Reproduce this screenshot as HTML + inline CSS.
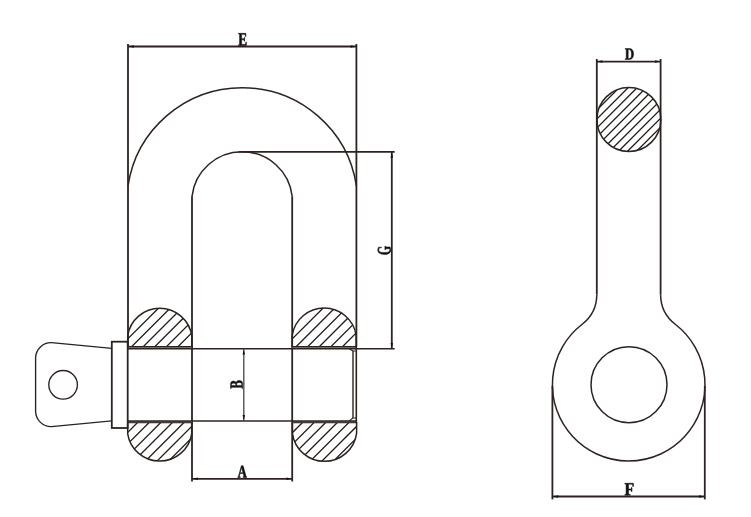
<!DOCTYPE html>
<html><head><meta charset="utf-8"><style>
html,body{margin:0;padding:0;background:#fff;}
svg{display:block;}
</style></head><body>
<svg width="751" height="517" viewBox="0 0 751 517">
<rect width="751" height="517" fill="#fff"/>
<line x1="128" y1="46.5" x2="356.4" y2="46.5" stroke="#2c2320" stroke-width="1.8"/><polygon points="128.6,46.5 133.8,45.25 133.8,47.75" fill="#151210"/><polygon points="355.8,46.5 350.6,47.75 350.6,45.25" fill="#151210"/><line x1="128" y1="44" x2="128" y2="347" stroke="#2c2320" stroke-width="1.8"/><line x1="356.4" y1="44" x2="356.4" y2="346.5" stroke="#2c2320" stroke-width="1.8"/><path d="M128,185.92 A115.5,115.5 0 0 1 356.4,185.92" fill="none" stroke="#2c2320" stroke-width="1.5"/><path d="M192,196.35 A50.44,50.44 0 0 1 292.2,196.35" fill="none" stroke="#2c2320" stroke-width="1.5"/><line x1="192" y1="196.35" x2="192" y2="481.5" stroke="#2c2320" stroke-width="1.8"/><line x1="292.2" y1="196.35" x2="292.2" y2="481.5" stroke="#2c2320" stroke-width="1.8"/><line x1="238.6" y1="151.9" x2="394.7" y2="151.9" stroke="#2c2320" stroke-width="1.8"/><line x1="391.8" y1="152" x2="391.8" y2="348.7" stroke="#2c2320" stroke-width="1.8"/><polygon points="391.8,152.6 393.05,157.8 390.55,157.8" fill="#151210"/><polygon points="391.8,348.1 390.55,342.9 393.05,342.9" fill="#151210"/><defs><clipPath id="h1"><path d="M127.7,346.8 L127.7,335.85 A32.4,32.4 0 0 1 191.8,335.85 L191.8,346.8 Z"/></clipPath><clipPath id="h2"><path d="M292.2,346.8 L292.2,335.32 A32.4,32.4 0 0 1 356.2,335.32 L356.2,346.8 Z"/></clipPath><clipPath id="h3"><path d="M127.7,422.6 L127.7,433.78 A32.4,32.4 0 0 0 191.7,433.78 L191.7,422.6 Z"/></clipPath><clipPath id="h4"><path d="M292.4,422.6 L292.4,433.3 A32.4,32.4 0 0 0 356.6,433.3 L356.6,422.6 Z"/></clipPath><clipPath id="h5"><circle cx="628.9" cy="119.5" r="32"/></clipPath></defs><g clip-path="url(#h1)" stroke="#1e1a18" stroke-width="1.3"><line x1="-133.3" y1="600" x2="466.7" y2="0"/><line x1="-121.7" y1="600" x2="478.3" y2="0"/><line x1="-110.1" y1="600" x2="489.9" y2="0"/><line x1="-98.5" y1="600" x2="501.5" y2="0"/><line x1="-86.9" y1="600" x2="513.1" y2="0"/><line x1="-75.3" y1="600" x2="524.7" y2="0"/></g><g clip-path="url(#h2)" stroke="#1e1a18" stroke-width="1.3"><line x1="31.2" y1="600" x2="631.2" y2="0"/><line x1="42.8" y1="600" x2="642.8" y2="0"/><line x1="54.4" y1="600" x2="654.4" y2="0"/><line x1="66" y1="600" x2="666" y2="0"/><line x1="77.6" y1="600" x2="677.6" y2="0"/><line x1="89.2" y1="600" x2="689.2" y2="0"/></g><g clip-path="url(#h3)" stroke="#1e1a18" stroke-width="1.3"><line x1="-39.9" y1="600" x2="560.1" y2="0"/><line x1="-28.3" y1="600" x2="571.7" y2="0"/><line x1="-16.7" y1="600" x2="583.3" y2="0"/><line x1="-5.1" y1="600" x2="594.9" y2="0"/><line x1="6.5" y1="600" x2="606.5" y2="0"/><line x1="18.1" y1="600" x2="618.1" y2="0"/><line x1="29.7" y1="600" x2="629.7" y2="0"/></g><g clip-path="url(#h4)" stroke="#1e1a18" stroke-width="1.3"><line x1="125" y1="600" x2="725" y2="0"/><line x1="136.6" y1="600" x2="736.6" y2="0"/><line x1="148.2" y1="600" x2="748.2" y2="0"/><line x1="159.8" y1="600" x2="759.8" y2="0"/><line x1="171.4" y1="600" x2="771.4" y2="0"/><line x1="183" y1="600" x2="783" y2="0"/><line x1="194.6" y1="600" x2="794.6" y2="0"/></g><g clip-path="url(#h5)" stroke="#1e1a18" stroke-width="1.3"><line x1="52.8" y1="600" x2="652.8" y2="0"/><line x1="61.8" y1="600" x2="661.8" y2="0"/><line x1="70.8" y1="600" x2="670.8" y2="0"/><line x1="79.8" y1="600" x2="679.8" y2="0"/><line x1="88.8" y1="600" x2="688.8" y2="0"/><line x1="97.8" y1="600" x2="697.8" y2="0"/><line x1="106.8" y1="600" x2="706.8" y2="0"/><line x1="115.8" y1="600" x2="715.8" y2="0"/><line x1="124.8" y1="600" x2="724.8" y2="0"/><line x1="133.8" y1="600" x2="733.8" y2="0"/><line x1="142.8" y1="600" x2="742.8" y2="0"/><line x1="151.8" y1="600" x2="751.8" y2="0"/><line x1="160.8" y1="600" x2="760.8" y2="0"/><line x1="169.8" y1="600" x2="769.8" y2="0"/><line x1="178.8" y1="600" x2="778.8" y2="0"/><line x1="187.8" y1="600" x2="787.8" y2="0"/><line x1="196.8" y1="600" x2="796.8" y2="0"/></g><path d="M127.7,346.8 L127.7,335.85 A32.4,32.4 0 0 1 191.8,335.85 L191.8,346.8 Z" fill="none" stroke="#2c2320" stroke-width="1.5"/><path d="M292.2,346.8 L292.2,335.32 A32.4,32.4 0 0 1 356.2,335.32 L356.2,346.8 Z" fill="none" stroke="#2c2320" stroke-width="1.5"/><path d="M127.7,422.6 L127.7,433.78 A32.4,32.4 0 0 0 191.7,433.78 L191.7,422.6 Z" fill="none" stroke="#2c2320" stroke-width="1.5"/><path d="M292.4,422.6 L292.4,433.3 A32.4,32.4 0 0 0 356.6,433.3 L356.6,422.6 Z" fill="none" stroke="#2c2320" stroke-width="1.5"/><rect x="127.7" y="347.2" width="64.1" height="1.4" fill="#6a625c"/><rect x="127.7" y="421.2" width="64.1" height="1.2" fill="#6a625c"/><rect x="292.2" y="347.2" width="64" height="1.4" fill="#6a625c"/><rect x="292.2" y="421.2" width="64" height="1.2" fill="#6a625c"/><line x1="127.7" y1="348.8" x2="394.7" y2="348.8" stroke="#2c2320" stroke-width="1.5"/><line x1="127.7" y1="420.9" x2="356.3" y2="420.9" stroke="#2c2320" stroke-width="1.5"/><line x1="353" y1="351" x2="353" y2="418" stroke="#3a302c" stroke-width="1.5"/><line x1="353" y1="351" x2="356.3" y2="351" stroke="#2c2320" stroke-width="1.0"/><line x1="353" y1="418" x2="356.3" y2="418" stroke="#2c2320" stroke-width="1.0"/><line x1="349.2" y1="348.8" x2="353" y2="351" stroke="#2c2320" stroke-width="1.1"/><line x1="349.2" y1="420.9" x2="353" y2="418" stroke="#2c2320" stroke-width="1.1"/><line x1="356.3" y1="346.4" x2="356.3" y2="422.8" stroke="#2c2320" stroke-width="1.6"/><rect x="111.8" y="341.7" width="15.9" height="86.3" fill="none" stroke="#2c2320" stroke-width="1.8"/><path d="M111.8,348.4 L51.5,342.7 A15.5,15.5 0 0 0 35.6,357.8 L35.6,411.6 A15.5,15.5 0 0 0 51.5,426.6 L111.8,420.8" fill="none" stroke="#2c2320" stroke-width="1.35"/><circle cx="63.1" cy="384.8" r="14.3" fill="none" stroke="#2c2320" stroke-width="1.35"/><line x1="192" y1="478.8" x2="292.2" y2="478.8" stroke="#2c2320" stroke-width="1.8"/><polygon points="192.6,478.8 197.8,477.55 197.8,480.05" fill="#151210"/><polygon points="291.6,478.8 286.4,480.05 286.4,477.55" fill="#151210"/><line x1="243.8" y1="348.8" x2="243.8" y2="420.9" stroke="#4a4440" stroke-width="1.3"/><polygon points="243.8,349.4 245.05,354.6 242.55,354.6" fill="#151210"/><polygon points="243.8,420.3 242.55,415.1 245.05,415.1" fill="#151210"/><line x1="596.6" y1="61.6" x2="660.8" y2="61.6" stroke="#2c2320" stroke-width="1.8"/><polygon points="597.2,61.6 602.4,60.35 602.4,62.85" fill="#151210"/><polygon points="660.2,61.6 655,62.85 655,60.35" fill="#151210"/><line x1="596.8" y1="59" x2="596.8" y2="294.5" stroke="#2c2320" stroke-width="1.8"/><line x1="660.6" y1="59" x2="660.6" y2="294.5" stroke="#2c2320" stroke-width="1.8"/><circle cx="628.9" cy="119.5" r="32" fill="none" stroke="#2c2320" stroke-width="1.5"/><path d="M596.8,294.5 A37.52,37.52 0 0 1 582.16,324.23 A76.3,76.3 0 1 0 675.24,324.23 A37.52,37.52 0 0 1 660.6,294.5" fill="none" stroke="#2c2320" stroke-width="1.5"/><circle cx="629" cy="384.7" r="38" fill="none" stroke="#2c2320" stroke-width="1.5"/><line x1="552.4" y1="386" x2="552.4" y2="499.4" stroke="#2c2320" stroke-width="1.8"/><line x1="704.8" y1="386" x2="704.8" y2="499.4" stroke="#2c2320" stroke-width="1.8"/><line x1="552.4" y1="496.5" x2="704.8" y2="496.5" stroke="#2c2320" stroke-width="1.8"/><polygon points="553,496.5 558.2,495.25 558.2,497.75" fill="#151210"/><polygon points="704.2,496.5 699,497.75 699,495.25" fill="#151210"/>
<g fill="#111" stroke="#111" stroke-width="0.5" stroke-linejoin="round"><path d="M238.45 44.79 239.57 44.55V34.24L238.45 34.01V33.35H245.9V36.43H245.31L245.1 34.47Q244.37 34.34 242.99 34.34H241.63V38.78H243.92L244.12 37.45H244.7V41.16H244.12L243.92 39.79H241.63V44.46H243.28Q244.96 44.46 245.48 44.31L245.86 42.08H246.45L246.33 45.45H238.45Z"/><path d="M631.47 53.99Q631.47 51.64 630.81 50.54Q630.15 49.44 628.65 49.44H628.19V58.49Q628.79 58.56 629.28 58.56Q630.09 58.56 630.56 58.1Q631.04 57.65 631.25 56.68Q631.47 55.71 631.47 53.99ZM629.13 48.55Q631.39 48.55 632.47 49.88Q633.55 51.2 633.55 53.92Q633.55 56.72 632.52 58.08Q631.49 59.45 629.4 59.45L626.59 59.42H625.15V58.83L626.23 58.61V49.35L625.15 49.14V48.55Z"/><path d="M628.54 490.07V494.26L630.28 494.5V495.15H624.85V494.5L626.09 494.26V484.13L624.75 483.9V483.25H633.45V486.45H632.72L632.47 484.35Q632.09 484.29 631.21 484.26Q630.33 484.23 629.82 484.23H628.54V489.1H631.08L631.33 487.59H632.02V491.6H631.33L631.08 490.07Z"/><path d="M240.29 476.82V477.45H237.75V476.82L238.37 476.58L241.35 465.75H243.15L246.11 476.58L246.75 476.82V477.45H243.03V476.82L244 476.58L243.2 473.58H239.99L239.22 476.58ZM241.62 467.5 240.24 472.63H242.96Z"/><path d="M233.52 383.15Q232.47 383.15 232.01 383.47Q231.54 383.79 231.54 384.52V385.39H235.73V384.47Q235.73 383.79 235.23 383.47Q234.73 383.15 233.52 383.15ZM239.08 382.52Q237.89 382.52 237.31 382.94Q236.72 383.36 236.72 384.3V385.39H241.61Q241.66 384.48 241.66 383.96Q241.66 383.23 241.02 382.88Q240.39 382.52 239.08 382.52ZM242.6 388.45H241.94L241.7 387.36H231.44L231.21 388.45H230.55V384.37Q230.55 382.69 231.19 381.89Q231.83 381.1 233.27 381.1Q234.35 381.1 235.13 381.57Q235.91 382.04 236.16 382.83Q236.33 381.65 237.07 381.05Q237.81 380.45 239.08 380.45Q240.84 380.45 241.74 381.35Q242.65 382.26 242.65 383.94L242.6 386.81Z"/><path d="M389.99 246.91Q390.38 247.62 390.62 248.57Q390.85 249.52 390.85 250.27Q390.85 251.54 390.09 252.48Q389.33 253.43 387.87 253.94Q386.41 254.45 384.42 254.45Q381.22 254.45 379.48 253.34Q377.75 252.23 377.75 250.16Q377.75 249.66 377.82 249.25Q377.88 248.84 378 248.48Q378.11 248.12 378.56 247.16H381.49V247.68L379.83 247.82Q379.32 248.28 379.04 248.82Q378.75 249.37 378.75 249.96Q378.75 251.3 380.13 251.92Q381.51 252.53 384.4 252.53Q387.1 252.53 388.48 251.88Q389.87 251.23 389.87 250Q389.87 249.33 389.54 248.73H385.84L385.59 249.72H384.89V246.15H385.59L385.84 246.91Z"/></g>
</svg>
</body></html>
